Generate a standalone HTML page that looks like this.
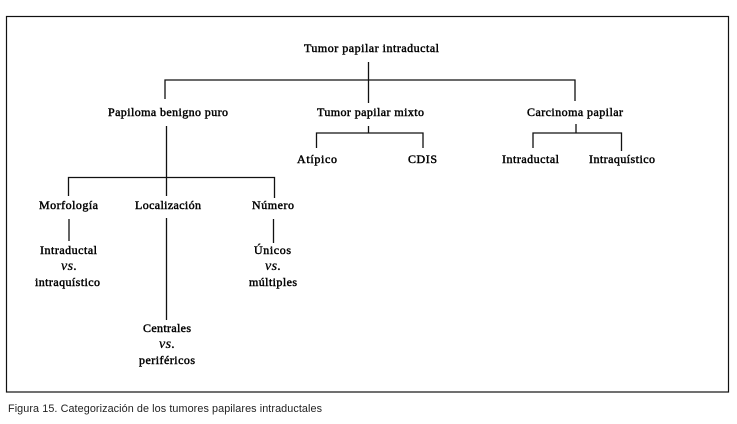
<!DOCTYPE html>
<html lang="es"><head><meta charset="utf-8"><title>Figura 15</title>
<style>
html,body{margin:0;padding:0;background:#fff;width:737px;height:424px;overflow:hidden}
svg{display:block}
.t{font-family:"Liberation Serif",serif;font-size:12px;fill:#000;stroke:#000;stroke-width:.45px}
.i{font-style:italic;font-size:14px;stroke-width:.3px}
.c{font-family:"Liberation Sans",sans-serif;font-size:10.8px;fill:#222}
.l{stroke:#111;stroke-width:1.3;fill:none}
</style></head><body>
<svg width="737" height="424" viewBox="0 0 737 424" xmlns="http://www.w3.org/2000/svg">
<rect x="6.5" y="16.5" width="722" height="375.5" fill="#fff" stroke="#111" stroke-width="1.2"/>
<path class="l" d="M368.5 62V103M165 99V80H575V101M166.5 126V196M68.5 196V177.5H274.5V198M69 219V241M166.5 218V320M273.5 219V243M368.5 126V133M316.5 148V133H423V148M576 124V133M533 148V133H621.5V151"/>
<text class="t" x="304" y="52" textLength="135" lengthAdjust="spacing">Tumor papilar intraductal</text>
<text class="t" x="108" y="116" textLength="120" lengthAdjust="spacing">Papiloma benigno puro</text>
<text class="t" x="317" y="116" textLength="107" lengthAdjust="spacing">Tumor papilar mixto</text>
<text class="t" x="527" y="116" textLength="96" lengthAdjust="spacing">Carcinoma papilar</text>
<text class="t" x="297" y="163" textLength="40" lengthAdjust="spacing">Atípico</text>
<text class="t" x="408" y="163" textLength="29" lengthAdjust="spacing">CDIS</text>
<text class="t" x="502" y="163" textLength="57" lengthAdjust="spacing">Intraductal</text>
<text class="t" x="589" y="163" textLength="66" lengthAdjust="spacing">Intraquístico</text>
<text class="t" x="39" y="209" textLength="59" lengthAdjust="spacing">Morfología</text>
<text class="t" x="135" y="209" textLength="66" lengthAdjust="spacing">Localización</text>
<text class="t" x="252" y="209" textLength="42" lengthAdjust="spacing">Número</text>
<text class="t" x="40" y="254" textLength="57" lengthAdjust="spacing">Intraductal</text>
<text class="t i" x="61" y="270" textLength="16" lengthAdjust="spacing">vs.</text>
<text class="t" x="35" y="286" textLength="65" lengthAdjust="spacing">intraquístico</text>
<text class="t" x="254" y="254" textLength="37" lengthAdjust="spacing">Únicos</text>
<text class="t i" x="265" y="270" textLength="16" lengthAdjust="spacing">vs.</text>
<text class="t" x="249" y="286" textLength="48" lengthAdjust="spacing">múltiples</text>
<text class="t" x="143" y="332" textLength="48" lengthAdjust="spacing">Centrales</text>
<text class="t i" x="159" y="348" textLength="16" lengthAdjust="spacing">vs.</text>
<text class="t" x="139" y="364" textLength="56" lengthAdjust="spacing">periféricos</text>
<text class="c" x="8" y="412" textLength="314" lengthAdjust="spacing">Figura 15. Categorización de los tumores papilares intraductales</text>
</svg>
</body></html>
